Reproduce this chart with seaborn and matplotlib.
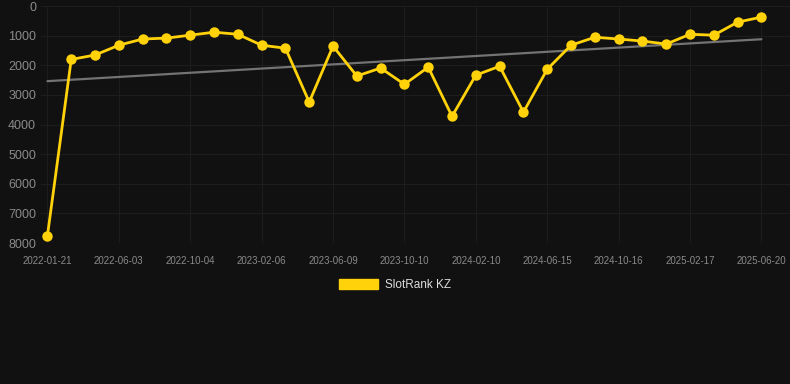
import pandas as pd
import numpy as np
import seaborn as sns
import matplotlib.pyplot as plt
from matplotlib.patches import Patch

# Dữ liệu
dates = [
    "2022-01-21", "2022-03-06", "2022-04-19", "2022-06-03", "2022-07-14", "2022-08-24",
    "2022-10-04", "2022-11-15", "2022-12-27", "2023-02-06", "2023-03-20", "2023-04-30",
    "2023-06-09", "2023-07-20", "2023-08-30", "2023-10-10", "2023-11-20", "2023-12-31",
    "2024-02-10", "2024-03-24", "2024-05-05", "2024-06-15", "2024-07-26", "2024-09-05",
    "2024-10-16", "2024-11-27", "2025-01-07", "2025-02-17", "2025-03-31", "2025-05-11",
    "2025-06-20",
]
ranks = [
    7750, 1800, 1650, 1320, 1110, 1080, 980, 880, 950, 1320, 1420, 3240,
    1350, 2360, 2090, 2640, 2060, 3720, 2330, 2030, 3580, 2130, 1320, 1050,
    1110, 1180, 1280, 950, 980, 540, 370,
]
tick_dates = [
    "2022-01-21", "2022-06-03", "2022-10-04", "2023-02-06", "2023-06-09", "2023-10-10",
    "2024-02-10", "2024-06-15", "2024-10-16", "2025-02-17", "2025-06-20",
]
series_name = "SlotRank KZ"

df = pd.DataFrame({"date": dates, "rank": ranks})
df["pos"] = np.arange(len(df))

# Đường xu hướng (hồi quy tuyến tính)
slope, intercept = np.polyfit(df["pos"], df["rank"], 1)
df["trend"] = intercept + slope * df["pos"]

bg = "#111111"
sns.set_theme(style="dark")
plt.rcParams.update({
    "font.family": ["Liberation Sans", "DejaVu Sans"],
    "figure.facecolor": bg,
    "axes.facecolor": bg,
    "savefig.facecolor": bg,
})

fig = plt.figure(figsize=(7.9, 3.84), dpi=100)
ax = fig.add_axes([0.051, 0.367, 0.949, 0.617])

sns.lineplot(data=df, x="pos", y="trend", ax=ax, color="#737373", linewidth=1.6, zorder=2)
sns.lineplot(data=df, x="pos", y="rank", ax=ax, color="#FFD20A", linewidth=2.0,
             marker="o", markersize=7.5, markeredgewidth=0, zorder=3)

ax.set_ylim(8000, 0)
ax.set_yticks(range(0, 8001, 1000))
ax.set_xlim(-0.3, 31.2)
tick_pos = [dates.index(d) for d in tick_dates]
ax.set_xticks(tick_pos)
ax.set_xticklabels(tick_dates)

ax.grid(True, color="#1d1d1d", linewidth=0.8)
for s in ax.spines.values():
    s.set_visible(False)
ax.axhline(8000, color="#2a2a2a", linewidth=0.8, zorder=1)
ax.tick_params(axis="y", colors="#8a8a8a", labelsize=9, length=0, pad=3)
ax.tick_params(axis="x", colors="#8a8a8a", labelsize=7, length=0, pad=9)
ax.set_xlabel("")
ax.set_ylabel("")

handle = Patch(facecolor="#FFD20A", edgecolor="#FFD20A", label=series_name)
fig.legend(handles=[handle], loc="center", bbox_to_anchor=(0.5, 0.258), frameon=False,
           handlelength=3.3, handleheight=1.0, handletextpad=0.6,
           labelcolor="#dddddd", fontsize=8.5)

fig.savefig("out.png", dpi=100, facecolor=bg)
